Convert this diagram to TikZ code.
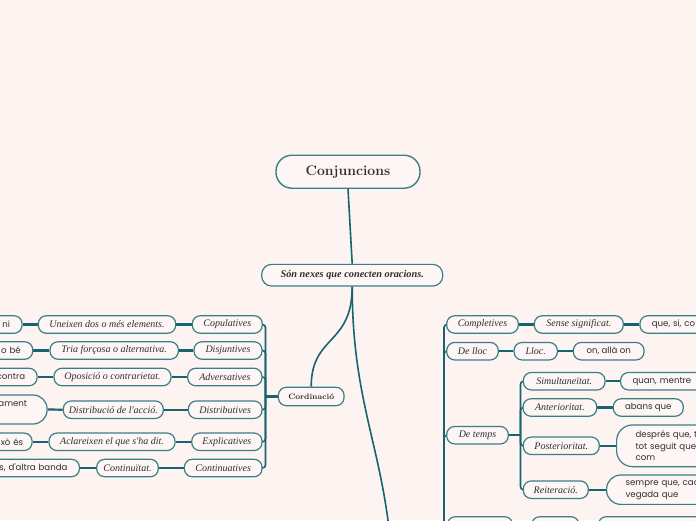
\documentclass[tikz,border=0pt]{standalone}
\usepackage{fontspec}
\newfontfamily\popp{Poppins}
\newfontfamily\lser{Liberation Serif}
\definecolor{bgc}{HTML}{FDF3F1}
\definecolor{nodef}{HTML}{FEF6F4}
\definecolor{nodeb}{HTML}{3A7F88}
\definecolor{linec}{HTML}{176470}
\definecolor{txt}{HTML}{2E2E2E}
\pgfdeclarelayer{back}
\pgfsetlayers{back,main}
\tikzset{
  base/.style={draw=nodeb, fill=nodef, line width=1.2pt, rounded corners=8pt,
    minimum height=17.5pt, inner ysep=1.5pt, inner xsep=3pt, text=txt},
  it/.style={base, font=\fontsize{10}{11}\selectfont\lser\itshape},
  sans/.style={base, font=\fontsize{8.6}{11.5}\selectfont\popp},
  cutl/.style={sans, anchor=east, text width=#1, align=right, inner xsep=12pt},
  cutr/.style={sans, anchor=west, text width=#1, align=left, inner xsep=12pt},
  conn/.style={draw=linec, line width=1.6pt},
  link/.style={draw=linec, line width=2.2pt},
  brk/.style={draw=linec, line width=1.6pt, rounded corners=3pt},
}
\begin{document}
\begin{tikzpicture}[x=1pt,y=-1pt]
\begin{pgfonlayer}{back}
\fill[bgc] (0,0) rectangle (696,520);
\end{pgfonlayer}
\useasboundingbox (0,0) rectangle (696,520);

% top
\node[base, line width=1.4pt, rounded corners=16pt, minimum width=144, minimum height=33,
  font=\fontsize{14}{16}\selectfont\bfseries] (conj) at (348,171.7) {Conjuncions};
\node[base, rounded corners=10pt, minimum width=181, minimum height=21.7,
  font=\fontsize{10.3}{12}\selectfont\lser\bfseries\itshape] (sn) at (352.2,275.2) {Són nexes que conecten oracions.};
\node[base, minimum width=65.7, minimum height=18.4,
  font=\fontsize{7.9}{10}\selectfont\bfseries] (cord) at (311.2,396.5) {Cordinació};

% left column
\node[it, minimum width=70]   (cop) at (227.3,324.5) {Copulatives};
\node[it, minimum width=68]   (dis) at (228,350.5) {Disjuntives};
\node[it, minimum width=74.3] (adv) at (224.85,377) {Adversatives};
\node[it, minimum width=73.7] (dst) at (225.2,409.7) {Distributives};
\node[it, minimum width=70.3] (exp) at (226.9,441.8) {Explicatives};
\node[it, minimum width=77.7] (con) at (223.2,468) {Continuatives};

\node[it, minimum width=137.4] (une) at (107,324.5) {Uneixen dos o més elements.};
\node[it, minimum width=128.3] (tri) at (114.2,350.5) {Tria forçosa o alternativa.};
\node[it, minimum width=117]   (opo) at (112.5,377) {Oposició o contrarietat.};
\node[it, minimum width=100]   (dsb) at (113.3,409.7) {Distribució de l'acció.};
\node[it, minimum width=126]   (acl) at (112,441.8) {Aclareixen el que s'ha dit.};
\node[it, minimum width=61.6]  (cnt) at (127.5,468) {Continuïtat.};

\node[cutl=40] (ni) at (22.7,324.5) {ni};
\node[cutl=40] (obe) at (33.3,350.5) {o bé};
\node[cutl=50] (ctr) at (37.7,377) {contra};
\node[cutl=60, inner xsep=20pt, minimum height=29, rounded corners=14pt] (ame) at (47.7,409.5) {ament\\\mbox{}};
\node[cutl=40, inner xsep=9pt] (xoe) at (32.7,441.8) {xò és};
\node[cutl=100] (dab) at (80,468) {s, d'altra banda};

% right side
\node[it, minimum width=71.6] (cmp) at (482.5,324.5) {Completives};
\node[it, minimum width=89]   (sen) at (578.8,324.5) {Sense significat.};
\node[cutr=80] (que) at (639.3,324.5) {que, si, co};

\node[it, minimum width=51.6] (llc) at (472.5,351.2) {De lloc};
\node[it, minimum width=43.3] (lcb) at (535.7,351.2) {Lloc.};
\node[sans, minimum width=70.7] (onn) at (608.7,351.2) {on, allà on};

\node[it, minimum width=61.6] (tmp) at (477.5,435.2) {De temps};
\node[it, minimum width=81.7] (sim) at (564.2,381.2) {Simultaneïtat.};
\node[cutr=80] (qua) at (620,381.2) {quan, mentre};
\node[it, minimum width=73.7] (ant) at (559.9,407.5) {Anterioritat.};
\node[sans, minimum width=70] (aba) at (648.3,407.5) {abans que};
\node[it, minimum width=76] (pos) at (561.3,445.8) {Posterioritat.};
\node[cutr=80, inner xsep=19pt, minimum height=41.7, rounded corners=16pt] (des) at (616,445.8) {després que, t\\tot seguit que\\com};
\node[it, minimum width=65] (rei) at (555.8,489.7) {Reiteració.};
\node[cutr=80, inner xsep=19pt, minimum height=29.3, rounded corners=14pt] (sem) at (606,489.7) {sempre que, cad\\vegada que};

% bottom nodes (cut)
\node[base, minimum width=65.4, minimum height=18] (ba) at (480,525.7) {};
\node[base, minimum width=47.3, minimum height=18] (bb) at (555.4,525.7) {};
\node[base, minimum width=110, minimum height=18] (bc) at (653.3,525.7) {};

\coordinate (cb) at (265.5,396.5);
\coordinate (tb) at (520.5,435.2);
\coordinate (sb) at (444,580);
\coordinate (sub) at (393,600);

\begin{pgfonlayer}{back}
\draw[conn] (conj.south) -- (sn.north);
\draw[conn] (sn.south) .. controls +(0,59) and +(0,-52) .. (cord.north);
\draw[conn] (sn.south) .. controls (352.2,420) and (393,460) .. (sub);

\draw[link] (cord.west) -- (cb);
\foreach \n in {cop,dis,adv,dst,exp,con} \draw[brk] (cb) |- (\n.east);
\draw[link] (cop.west) -- (une.east); \draw[link] (une.west) -- (ni.east);
\draw[link] (dis.west) -- (tri.east); \draw[link] (tri.west) -- (obe.east);
\draw[link] (adv.west) -- (opo.east); \draw[link] (opo.west) -- (ctr.east);
\draw[link] (dst.west) -- (dsb.east); \draw[link] (dsb.west) -- (ame.east);
\draw[link] (exp.west) -- (acl.east); \draw[link] (acl.west) -- (xoe.east);
\draw[link] (con.west) -- (cnt.east); \draw[link] (cnt.west) -- (dab.east);

\foreach \n in {cmp,llc,tmp,ba} \draw[brk] (sb) |- (\n.west);
\draw[link] (cmp.east) -- (sen.west); \draw[link] (sen.east) -- (que.west);
\draw[link] (llc.east) -- (lcb.west); \draw[link] (lcb.east) -- (onn.west);
\draw[link] (tmp.east) -- (tb);
\foreach \n in {sim,ant,pos,rei} \draw[brk] (tb) |- (\n.west);
\draw[link] (sim.east) -- (qua.west);
\draw[link] (ant.east) -- (aba.west);
\draw[link] (pos.east) -- (des.west);
\draw[link] (rei.east) -- (sem.west);
\draw[link] (ba.east) -- (bb.west); \draw[link] (bb.east) -- (bc.west);
\end{pgfonlayer}
\end{tikzpicture}
\end{document}
